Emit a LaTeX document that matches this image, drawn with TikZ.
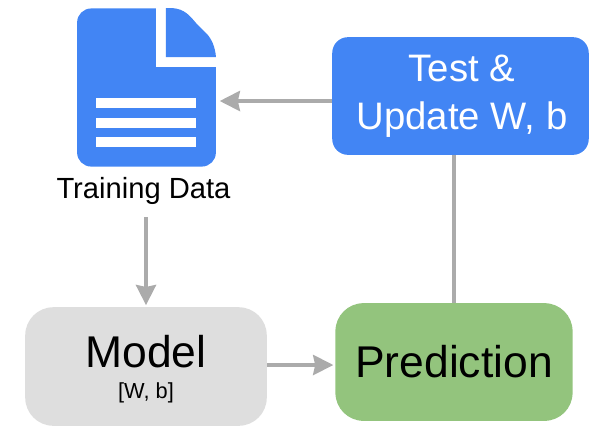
\documentclass[tikz,border=0pt]{standalone}
\usepackage{fontspec}
\setmainfont{Liberation Sans}
\usetikzlibrary{arrows.meta}
\definecolor{docblue}{HTML}{4285F4}
\definecolor{modelgray}{HTML}{DEDEDE}
\definecolor{predgreen}{HTML}{93C47D}
\definecolor{linkgray}{HTML}{ABABAB}
\tikzset{
	box/.style={inner sep=0pt, align=center, text centered},
	link/.style={draw=linkgray, line width=1.9pt},
	tip/.style={-{Stealth[length=11.5pt, width=11.5pt, inset=1.2pt]}},
	strip/.style={fill=white, minimum width=56.7pt, minimum height=5.7pt, inner sep=0pt}
}
\begin{document}
\begin{tikzpicture}[x=0.02cm, y=-0.02cm]
	\useasboundingbox (0,0) rectangle (600,441);
	% document icon
	\node[box, fill=docblue, rounded corners=8pt, minimum width=79pt, minimum height=90pt] (data) at (146.5,87.5) {};
	\fill[white] (156,6) rectangle (218,67);
	\fill[docblue] (166,8) -- (172,8) .. controls (185,9) and (190,16) .. (196,23) -- (206,33) .. controls (212,39) and (215,47) .. (216,57) -- (166,57) -- cycle;
	\node[strip] (line1) at (146,103) {};
	\node[strip] (line2) at (146,123) {};
	\node[strip] (line3) at (146,142) {};
	\node[box, font=\fontsize{16.6}{20}\selectfont] (label) at (143.5,191) {Training Data};
	% boxes
	\node[box, fill=docblue, rounded corners=9pt, minimum width=146pt, minimum height=67pt] (test) at (460.5,96) {};
	\node[box, text=white, font=\fontsize{21.8}{27}\selectfont] (testtext) at (462,96) {Test \&\\Update W, b};
	\node[box, fill=modelgray, rounded corners=16pt, minimum width=137.5pt, minimum height=67.5pt] (model) at (146,366.5) {};
	\node[box, font=\fontsize{25.3}{28}\selectfont] (modeltext) at (146,352) {Model};
	\node[box, font=\fontsize{12.4}{15}\selectfont] (modelsub) at (146,393) {[W, b]};
	\node[box, fill=predgreen, rounded corners=16pt, minimum width=135pt, minimum height=67pt, font=\fontsize{25.3}{30}\selectfont] (pred) at (454,362) {Prediction};
	% connectors
	\draw[link, tip, shorten >=2pt] (test.west |- 0,101) -- (data.east |- 0,101);
	\draw[link, tip, shorten <=7pt, shorten >=1pt] (label.south -| model.north) -- (model.north);
	\draw[link, tip, shorten >=1pt] (model.east |- 0,365) -- (pred.west |- 0,365);
	\draw[link] (pred.north) -- (pred.north |- test.south);
\end{tikzpicture}
\end{document}
